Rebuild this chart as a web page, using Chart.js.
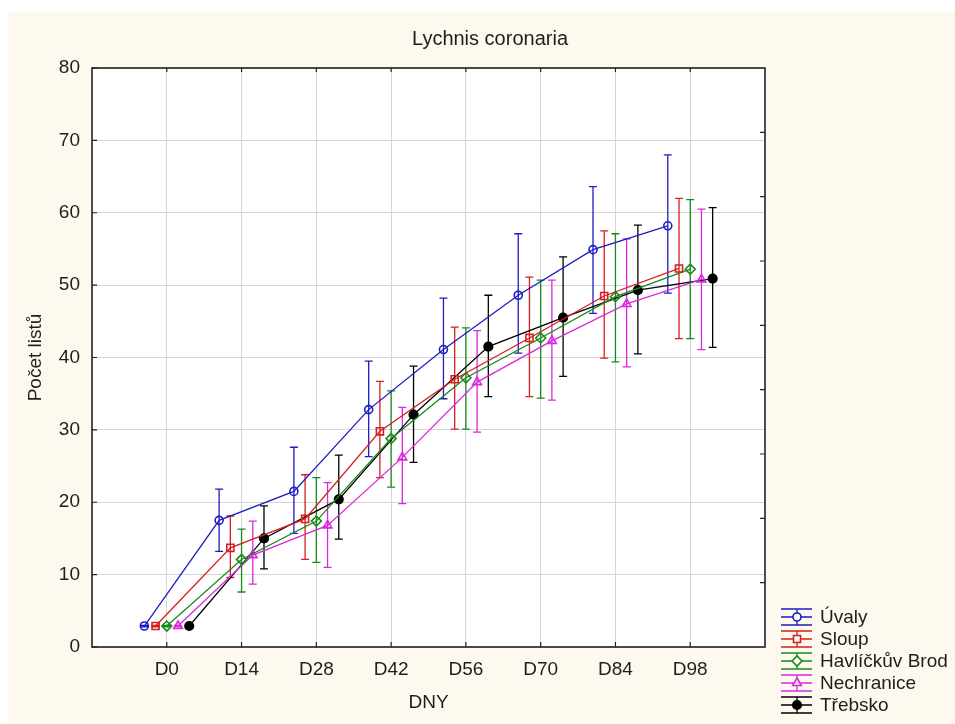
<!DOCTYPE html>
<html>
<head>
<meta charset="utf-8">
<title>Lychnis coronaria</title>
<script src="https://cdn.jsdelivr.net/npm/chart.js@4.4.0/dist/chart.umd.min.js"></script>
<style>
    html, body { margin: 0; padding: 0; background: #fff; }
    #wrap { width: 955px; height: 724px; }
</style>
</head>
<body>
<div id="wrap"><canvas id="chart" width="955" height="724"></canvas></div>
<script>
// Data (mean with whisker ends)
const chartTitle = 'Lychnis coronaria';
const xTitle = 'DNY';
const yTitle = 'Počet listů';
const days = ['D0', 'D14', 'D28', 'D42', 'D56', 'D70', 'D84', 'D98'];
const seriesNames = ['Úvaly', 'Sloup', 'Havlíčkův Brod', 'Nechranice', 'Třebsko'];

const uvalyMean = [2.9, 17.5, 21.5, 32.8, 41.1, 48.6, 54.9, 58.2];
const uvalyLow  = [2.8, 13.2, 15.7, 26.3, 34.3, 40.6, 46.1, 48.9];
const uvalyHigh = [3.0, 21.8, 27.6, 39.5, 48.2, 57.1, 63.6, 68.0];

const sloupMean = [2.9, 13.7, 17.7, 29.8, 37.0, 42.7, 48.5, 52.3];
const sloupLow  = [2.8, 9.6, 12.1, 23.4, 30.1, 34.6, 39.9, 42.6];
const sloupHigh = [3.0, 18.1, 23.8, 36.7, 44.2, 51.1, 57.5, 62.0];

const brodMean = [2.9, 12.1, 17.4, 28.8, 37.2, 42.7, 48.4, 52.2];
const brodLow  = [2.8, 7.6, 11.7, 22.1, 30.1, 34.4, 39.4, 42.6];
const brodHigh = [3.0, 16.3, 23.4, 35.4, 44.1, 50.7, 57.1, 61.8];

const nechMean = [2.9, 12.7, 16.8, 26.2, 36.6, 42.3, 47.4, 50.8];
const nechLow  = [2.8, 8.7, 11.0, 19.8, 29.7, 34.1, 38.7, 41.1];
const nechHigh = [3.0, 17.4, 22.7, 33.1, 43.7, 50.7, 56.4, 60.5];

const trebMean = [2.9, 15.0, 20.4, 32.1, 41.5, 45.5, 49.3, 50.9];
const trebLow  = [2.8, 10.8, 14.9, 25.5, 34.6, 37.4, 40.5, 41.4];
const trebHigh = [3.0, 19.5, 26.5, 38.8, 48.6, 53.9, 58.3, 60.7];

const yTicks = [0, 10, 20, 30, 40, 50, 60, 70, 80];

// styling, kept apart from the data
const FONT = '"Liberation Sans", Arial, sans-serif';
const TEXT = '#1e1e1e';
const seriesStyle = [
    { color: '#1d1dc2', point: 'circle', radius: 4, filled: false, shift: -0.3 },
    { color: '#d42020', point: 'rect', radius: 5, filled: false, shift: -0.15 },
    { color: '#18891c', point: 'rectRot', radius: 5, filled: false, shift: 0 },
    { color: '#dc28dc', point: 'triangle', radius: 5, filled: false, shift: 0.15 },
    { color: '#000000', point: 'circle', radius: 4.3, filled: true, shift: 0.3 }
];

const means = [uvalyMean, sloupMean, brodMean, nechMean, trebMean];
const lows = [uvalyLow, sloupLow, brodLow, nechLow, trebLow];
const highs = [uvalyHigh, sloupHigh, brodHigh, nechHigh, trebHigh];

const datasets = seriesNames.map((name, s) => {
    const st = seriesStyle[s];
    return {
        label: name,
        data: means[s].map((v, i) => ({ x: i + st.shift, y: v })),
        errLow: lows[s],
        errHigh: highs[s],
        borderColor: st.color,
        borderWidth: 1.3,
        tension: 0,
        fill: false,
        pointStyle: st.point,
        pointRadius: st.radius,
        pointHoverRadius: st.radius,
        pointBorderWidth: 1.6,
        pointBorderColor: st.color,
        pointBackgroundColor: st.filled ? st.color : 'rgba(0,0,0,0)'
    };
});

function marker(ctx, st, x, y) {
    if (Chart.helpers && Chart.helpers.drawPoint) {
        Chart.helpers.drawPoint(ctx, { pointStyle: st.point, radius: st.radius, borderWidth: 1.6, rotation: 0 }, x, y);
        return;
    }
    ctx.beginPath();
    ctx.arc(x, y, st.radius, 0, Math.PI * 2);
    ctx.fill();
    ctx.stroke();
}

// background, whiskers, frame with inside ticks, title and legend
const statisticaLook = {
    id: 'statisticaLook',
    beforeDraw(chart) {
        const { ctx, chartArea: a, width, height } = chart;
        ctx.save();
        ctx.fillStyle = '#ffffff';
        ctx.fillRect(0, 0, width, height);
        ctx.fillStyle = '#fdf9ee';
        ctx.fillRect(8, 12, width - 8, height - 12);
        ctx.fillStyle = '#ffffff';
        ctx.fillRect(a.left, a.top, a.right - a.left, a.bottom - a.top);
        ctx.restore();
    },
    beforeDatasetsDraw(chart) {
        const { ctx } = chart;
        const xs = chart.scales.x, ys = chart.scales.y;
        ctx.save();
        ctx.lineWidth = 1.3;
        chart.data.datasets.forEach(ds => {
            ctx.strokeStyle = ds.borderColor;
            ds.data.forEach((p, i) => {
                const x = xs.getPixelForValue(p.x);
                const y1 = ys.getPixelForValue(ds.errLow[i]);
                const y2 = ys.getPixelForValue(ds.errHigh[i]);
                ctx.beginPath();
                ctx.moveTo(x, y1); ctx.lineTo(x, y2);
                ctx.moveTo(x - 4, y1); ctx.lineTo(x + 4, y1);
                ctx.moveTo(x - 4, y2); ctx.lineTo(x + 4, y2);
                ctx.stroke();
            });
        });
        ctx.restore();
    },
    afterDraw(chart) {
        const { ctx, chartArea: a } = chart;
        const xs = chart.scales.x, ys = chart.scales.y;
        ctx.save();

        // frame
        ctx.strokeStyle = '#222';
        ctx.lineWidth = 1.6;
        ctx.strokeRect(a.left, a.top, a.right - a.left, a.bottom - a.top);

        // inside ticks
        ctx.lineWidth = 1.2;
        ctx.beginPath();
        yTicks.forEach(v => {
            const y = ys.getPixelForValue(v);
            ctx.moveTo(a.left, y); ctx.lineTo(a.left + 5, y);
        });
        for (let k = 1; k < 9; k++) {
            const y = a.top + k * (a.bottom - a.top) / 9;
            ctx.moveTo(a.right, y); ctx.lineTo(a.right - 5, y);
        }
        days.forEach((d, i) => {
            const x = xs.getPixelForValue(i);
            ctx.moveTo(x, a.bottom); ctx.lineTo(x, a.bottom - 5);
            ctx.moveTo(x, a.top); ctx.lineTo(x, a.top + 4);
        });
        ctx.stroke();

        // title
        ctx.fillStyle = TEXT;
        ctx.font = '20px ' + FONT;
        ctx.textAlign = 'center';
        ctx.textBaseline = 'alphabetic';
        ctx.fillText(chartTitle, 490, 45);

        // legend with whisker glyphs
        ctx.font = '19px ' + FONT;
        ctx.textAlign = 'left';
        ctx.textBaseline = 'middle';
        chart.data.datasets.forEach((ds, s) => {
            const st = seriesStyle[s];
            const cy = 617 + s * 22;
            const x0 = 781, x1 = 812, cx = 797;
            ctx.strokeStyle = st.color;
            ctx.lineWidth = 1.3;
            ctx.beginPath();
            ctx.moveTo(x0, cy - 8); ctx.lineTo(x1, cy - 8);
            ctx.moveTo(x0, cy + 8); ctx.lineTo(x1, cy + 8);
            ctx.moveTo(x0, cy); ctx.lineTo(x1, cy);
            ctx.moveTo(cx, cy - 8); ctx.lineTo(cx, cy + 8);
            ctx.stroke();
            ctx.fillStyle = st.filled ? st.color : '#fdf9ee';
            ctx.lineWidth = 1.6;
            marker(ctx, st, cx, cy);
            ctx.fillStyle = TEXT;
            ctx.fillText(ds.label, 820, cy + 1);
        });

        ctx.restore();
    }
};

new Chart(document.getElementById('chart'), {
    type: 'line',
    data: { datasets: datasets },
    plugins: [statisticaLook],
    options: {
        responsive: false,
        animation: false,
        events: [],
        layout: { padding: { left: 0, top: 68, right: 190, bottom: 0 } },
        plugins: {
            legend: { display: false },
            title: { display: false },
            tooltip: { enabled: false }
        },
        scales: {
            x: {
                type: 'linear',
                min: -1,
                max: 8,
                afterBuildTicks: axis => { axis.ticks = days.map((d, i) => ({ value: i })); },
                afterFit: axis => { axis.height = 77; },
                border: { display: false },
                grid: { color: '#d6d6d6', lineWidth: 1, drawTicks: false },
                ticks: {
                    autoSkip: false,
                    maxRotation: 0,
                    padding: 11,
                    color: TEXT,
                    font: { family: FONT, size: 19 },
                    callback: v => days[v] ?? ''
                },
                title: {
                    display: true,
                    text: xTitle,
                    color: TEXT,
                    font: { family: FONT, size: 19 },
                    padding: { top: 0, bottom: 10 }
                }
            },
            y: {
                min: 0,
                max: 80,
                afterBuildTicks: axis => { axis.ticks = yTicks.map(v => ({ value: v })); },
                afterFit: axis => { axis.width = 92; },
                border: { display: false },
                grid: { color: '#d6d6d6', lineWidth: 1, drawTicks: false },
                ticks: {
                    padding: 12,
                    color: TEXT,
                    font: { family: FONT, size: 19 }
                },
                title: {
                    display: true,
                    text: yTitle,
                    color: TEXT,
                    font: { family: FONT, size: 19 },
                    padding: { top: 24, bottom: 0 }
                }
            }
        }
    }
});
</script>
</body>
</html>
